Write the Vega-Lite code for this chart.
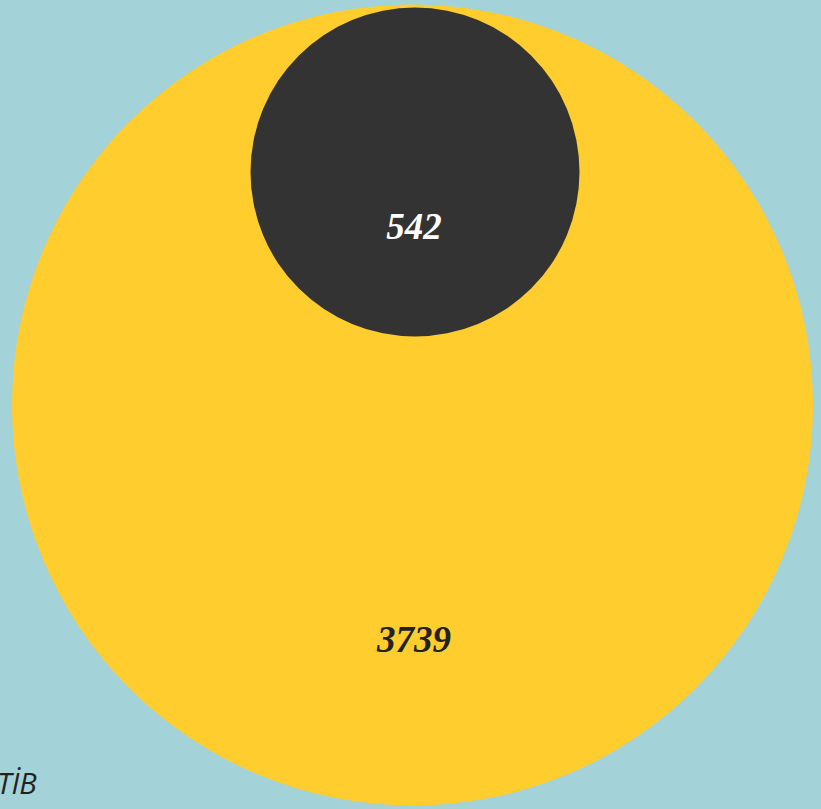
{
  "$schema": "https://vega.github.io/schema/vega-lite/v6.json",
  "width": 821,
  "height": 809,
  "autosize": "none",
  "padding": 0,
  "background": "#a3d2d9",
  "config": {"view": {"stroke": null}},
  "title": {
    "text": "TİB",
    "orient": "bottom",
    "anchor": "start",
    "offset": -15,
    "dx": -3,
    "font": "Open Sans",
    "fontSize": 29,
    "fontStyle": "italic",
    "fontWeight": "normal",
    "color": "#222222",
    "baseline": "alphabetic"
  },
  "data": {
    "values": [
      {"name": "Toplam", "value": 3739},
      {"name": "Alt", "value": 542}
    ]
  },
  "layer": [
    {
      "mark": {"type": "point", "filled": true, "shape": "circle", "opacity": 1},
      "encoding": {
        "x": {"field": "name", "type": "nominal", "scale": {"type": "point", "domain": ["Toplam", "Alt"], "range": [412.5, 415], "padding": 0}, "axis": null},
        "y": {"field": "name", "type": "nominal", "scale": {"type": "point", "domain": ["Alt", "Toplam"], "range": [172, 405], "padding": 0}, "axis": null},
        "size": {"field": "value", "type": "quantitative", "scale": {"domain": [542, 3739], "range": [108241, 641601], "zero": false}, "legend": null},
        "color": {"field": "name", "type": "nominal", "scale": {"domain": ["Toplam", "Alt"], "range": ["#ffcd2e", "#333333"]}, "legend": null},
        "order": {"field": "value", "sort": "descending"}
      }
    },
    {
      "mark": {"type": "text", "font": "Liberation Serif", "fontSize": 37, "fontWeight": "bold", "fontStyle": "italic", "baseline": "middle", "align": "center"},
      "encoding": {
        "text": {"field": "value", "type": "quantitative", "format": "d"},
        "x": {"field": "name", "type": "nominal", "scale": {"type": "point", "domain": ["Toplam", "Alt"], "range": [414, 414], "padding": 0}, "axis": null},
        "y": {"field": "name", "type": "nominal", "scale": {"type": "point", "domain": ["Alt", "Toplam"], "range": [228, 641], "padding": 0}, "axis": null},
        "color": {"field": "name", "type": "nominal", "scale": {"domain": ["Toplam", "Alt"], "range": ["#222222", "#ffffff"]}, "legend": null}
      }
    }
  ],
  "resolve": {"scale": {"x": "independent", "y": "independent", "color": "independent"}}
}
